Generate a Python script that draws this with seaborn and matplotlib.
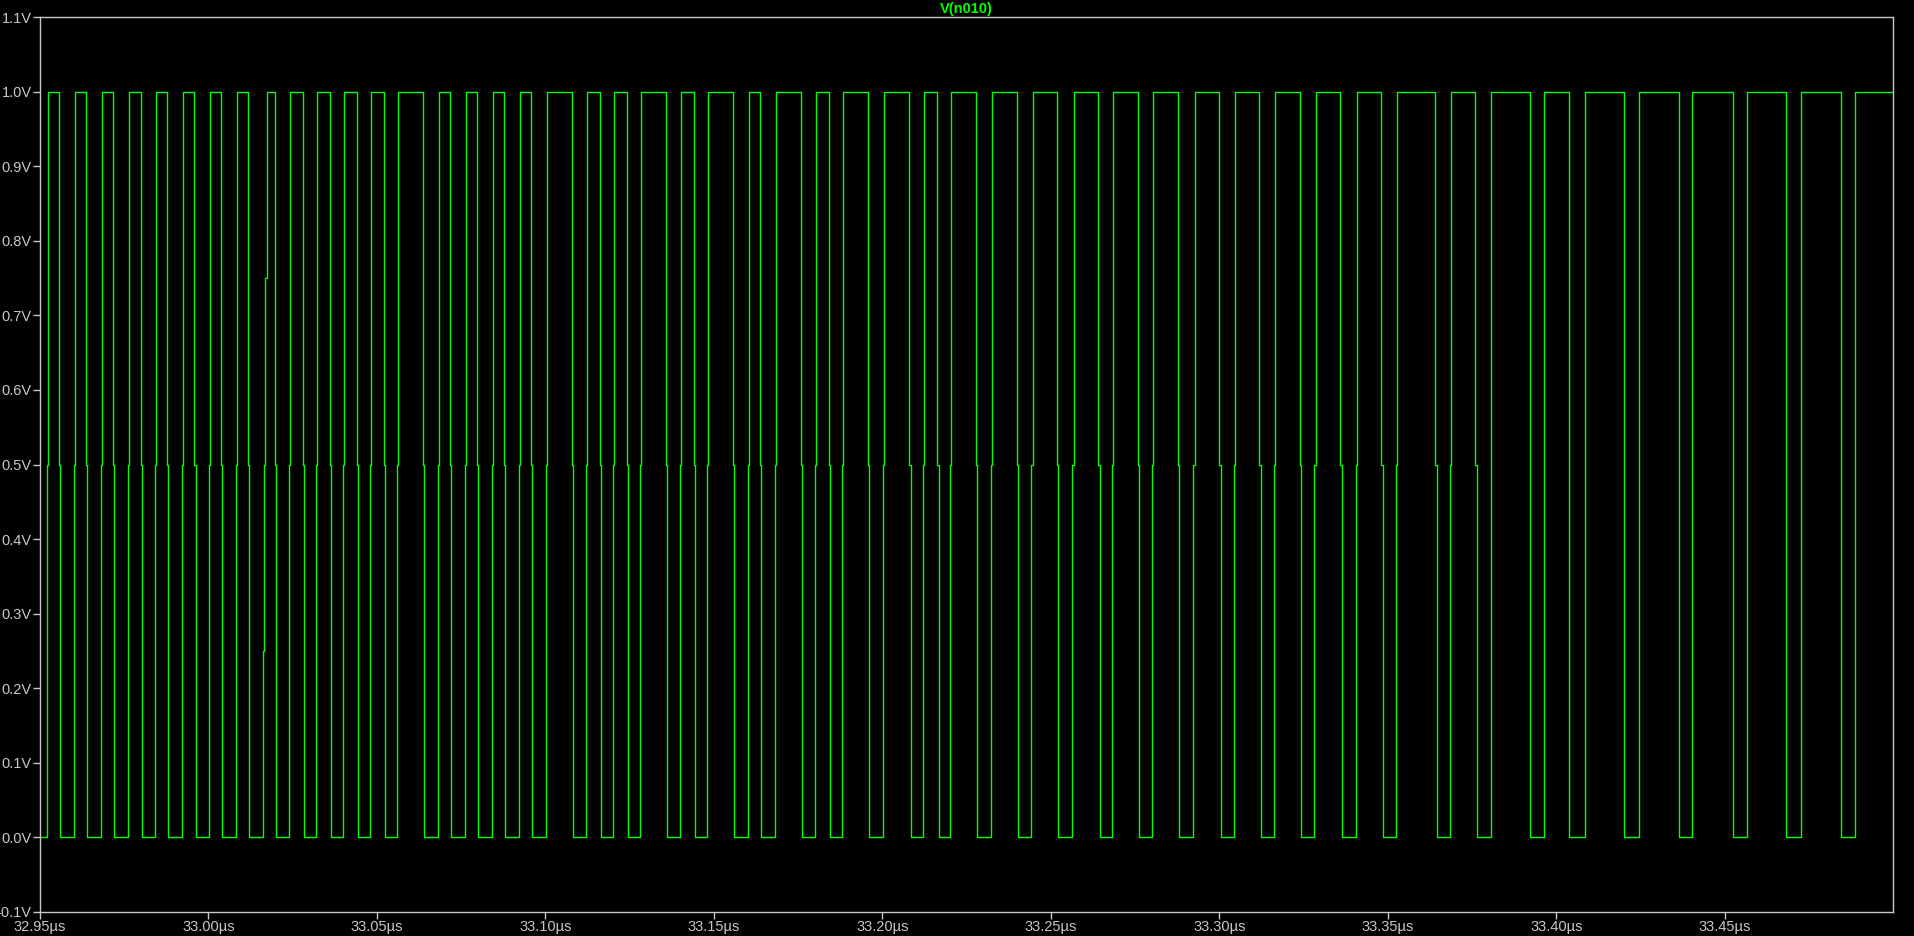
import numpy as np
import pandas as pd
import matplotlib
matplotlib.use("Agg")
import matplotlib.pyplot as plt
import seaborn as sns

# Edge times (ns)
t_start_ns = 32950.0
t_end_ns = 33500.0
rise_ns = [32952.0, 32960.0, 32968.1, 32976.1, 32984.1, 32992.1, 33000.1, 33008.1, 33016.2,
           33023.9, 33031.9, 33039.9, 33047.9, 33055.9, 33068.1, 33076.1, 33084.1, 33092.2,
           33100.2, 33112.1, 33120.1, 33128.1, 33140.0, 33148.0, 33160.2, 33168.2, 33180.0,
           33188.1, 33200.2, 33212.1, 33220.1, 33232.3, 33244.2, 33256.4, 33268.2, 33280.1,
           33292.3, 33304.2, 33316.3, 33328.2, 33340.4, 33352.3, 33368.3, 33380.5, 33396.2,
           33408.4, 33424.4, 33440.4, 33456.5, 33472.5, 33488.5]
fall_ns = [32955.6, 32963.6, 32971.6, 32979.9, 32987.6, 32995.8, 33003.7, 33011.7, 33019.7,
           33028.0, 33036.0, 33044.1, 33052.1, 33063.7, 33071.7, 33079.7, 33087.7, 33095.7,
           33107.9, 33116.2, 33124.2, 33135.8, 33144.1, 33155.7, 33163.7, 33175.9, 33184.2,
           33195.8, 33208.0, 33216.3, 33227.8, 33240.0, 33251.9, 33264.1, 33275.9, 33287.8,
           33300.0, 33311.9, 33324.0, 33335.9, 33348.1, 33364.1, 33376.0, 33392.3, 33403.9,
           33420.2, 33436.3, 33452.3, 33468.3, 33484.4]
v_low = 0.0
v_mid = 0.5
v_high = 1.0
mid_step_ns = 0.35        # short pause at mid level seen on edges
mid_step_until_ns = 33380.0
quarter_edge_ns = 33016.2  # rise that also pauses at 0.25 V and 0.75 V
quarter_levels = [0.25, 0.5, 0.75]

y_ticks = [-0.1, 0.0, 0.1, 0.2, 0.3, 0.4, 0.5, 0.6, 0.7, 0.8, 0.9, 1.0, 1.1]
y_labels = ["-0.1V", "0.0V", "0.1V", "0.2V", "0.3V", "0.4V", "0.5V", "0.6V",
            "0.7V", "0.8V", "0.9V", "1.0V", "1.1V"]
x_ticks = [32.95, 33.00, 33.05, 33.10, 33.15, 33.20, 33.25, 33.30, 33.35, 33.40, 33.45]
x_labels = ["32.95µs", "33.00µs", "33.05µs", "33.10µs", "33.15µs", "33.20µs",
            "33.25µs", "33.30µs", "33.35µs", "33.40µs", "33.45µs"]
title = "V(n010)"

# build step waveform
times = [t_start_ns]
vals = [v_low]


def add_edge(t, v_to):
    if abs(t - quarter_edge_ns) < 1e-6:
        for k, lv in enumerate(quarter_levels):
            times.append(t + k * mid_step_ns); vals.append(lv)
        times.append(t + len(quarter_levels) * mid_step_ns); vals.append(v_to)
    elif t < mid_step_until_ns:
        times.append(t); vals.append(v_mid)
        times.append(t + mid_step_ns); vals.append(v_to)
    else:
        times.append(t); vals.append(v_to)


for i, r in enumerate(rise_ns):
    add_edge(r, v_high)
    if i < len(fall_ns):
        add_edge(fall_ns[i], v_low)
times.append(t_end_ns); vals.append(vals[-1])
df = pd.DataFrame({"t": np.array(times) / 1000.0, "v": vals})

sns.set_theme(style="dark")
plt.rcParams['font.family'] = ['Liberation Sans', 'DejaVu Sans']

fig = plt.figure(figsize=(19.15, 9.36), dpi=100, facecolor="black")
ax = fig.add_axes([40 / 1915, 1 - 911.7 / 936, (1893.3 - 40) / 1915, (911.7 - 17.3) / 936])
ax.set_facecolor("black")

sns.lineplot(data=df, x="t", y="v", ax=ax, color="#00ff00", linewidth=1.0,
             drawstyle="steps-post", estimator=None, sort=False)

ax.set_xlim(32.95, 33.5)
ax.set_ylim(-0.1, 1.1)
ax.set_xticks(x_ticks)
ax.set_xticklabels(x_labels)
ax.set_yticks(y_ticks)
ax.set_yticklabels(y_labels)
ax.set_xlabel("")
ax.set_ylabel("")
ax.grid(False)
gray = "#c8c8c8"
for s in ax.spines.values():
    s.set_visible(True)
    s.set_color(gray)
    s.set_linewidth(1.0)
ax.tick_params(axis="both", colors=gray, labelcolor=gray, labelsize=10.5,
               direction="out", length=5, width=1, pad=1, bottom=True, left=True)
ax.set_title(title, color="#00ff00", fontsize=10.5, fontweight="bold", pad=3)

fig.savefig("out.png", dpi=100, facecolor="black")
